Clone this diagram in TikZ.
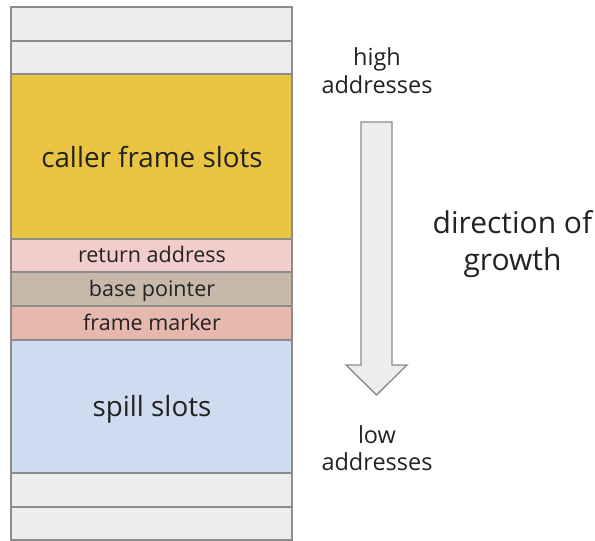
\documentclass[tikz,border=0pt]{standalone}
\usepackage{fontspec}
\setmainfont{Open Sans}
\begin{document}
\begin{tikzpicture}[x=1pt,y=-1pt]
\definecolor{slotgrey}{HTML}{EDEDED}
\definecolor{slotline}{HTML}{8C8C8C}
\definecolor{callerfill}{HTML}{E9C541}
\definecolor{retfill}{HTML}{F3CCCC}
\definecolor{basefill}{HTML}{C7B9AA}
\definecolor{markfill}{HTML}{E7B8AE}
\definecolor{spillfill}{HTML}{CFDBEE}
\definecolor{ink}{HTML}{222222}
\tikzset{
  cell/.style={draw=slotline, line width=1.4pt, minimum width=281pt,
    inner sep=0pt, outer sep=0pt},
  celltext/.style={text=ink, anchor=base, inner sep=0pt},
  bigtext/.style={celltext, font=\fontsize{27.8}{33}\selectfont},
  smalltext/.style={celltext, font=\fontsize{21.5}{26}\selectfont},
  sidetext/.style={text=ink, anchor=base, inner sep=0pt},
  addrtext/.style={sidetext, font=\fontsize{23.5}{28}\selectfont},
  dirtext/.style={sidetext, font=\fontsize{30}{36}\selectfont},
}
\useasboundingbox (0,0) rectangle (595,541);

% stack slots, top to bottom
\node[cell, fill=slotgrey, minimum height=34pt] (g1) at (151.5,24) {};
\node[cell, fill=slotgrey, minimum height=33pt] (g2) at (151.5,57.5) {};
\node[cell, fill=callerfill, minimum height=165pt] (caller) at (151.5,156.5) {};
\node[cell, fill=retfill, minimum height=33pt] (ret) at (151.5,255.5) {};
\node[cell, fill=basefill, minimum height=34pt] (base) at (151.5,289) {};
\node[cell, fill=markfill, minimum height=34pt] (mark) at (151.5,323) {};
\node[cell, fill=spillfill, minimum height=133pt] (spill) at (151.5,406.5) {};
\node[cell, fill=slotgrey, minimum height=34pt] (g3) at (151.5,490) {};
\node[cell, fill=slotgrey, minimum height=33pt] (g4) at (151.5,523.5) {};

% slot labels, placed on their baselines
\node[bigtext] (callerlbl) at (152,167) {caller frame slots};
\node[smalltext] (retlbl) at (152,262.5) {return address};
\node[smalltext] (baselbl) at (152,296.5) {base pointer};
\node[smalltext] (marklbl) at (152,330.5) {frame marker};
\node[bigtext] (spilllbl) at (152,416) {spill slots};

% growth arrow
\draw[draw=slotline, line width=1.4pt, fill=slotgrey, line join=miter]
  (361,122) -- (392,122) -- (392,365) -- (407,365) -- (376.5,395)
  -- (346,365) -- (361,365) -- cycle;

% address labels
\node[addrtext] (high1) at (377,65) {high};
\node[addrtext] (high2) at (377,93) {addresses};
\node[addrtext] (low1) at (377,443) {low};
\node[addrtext] (low2) at (377,470) {addresses};

% direction label
\node[dirtext] (dir1) at (512.5,233) {direction of};
\node[dirtext] (dir2) at (512.5,270) {growth};
\end{tikzpicture}
\end{document}
